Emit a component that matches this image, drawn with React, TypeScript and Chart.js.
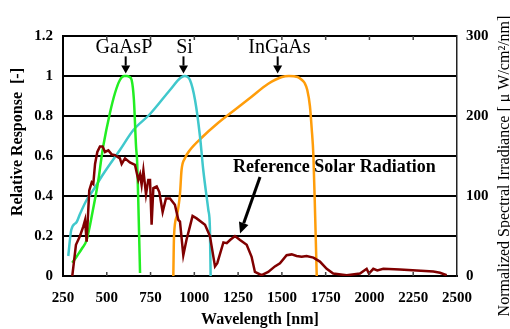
import { useEffect, useRef } from "react";
import { Chart, registerables } from "chart.js";

Chart.register(...registerables);

// ---- data ----
const gaaspWl = [303, 330, 360, 385, 423, 452, 471, 480, 518, 547, 575, 600, 614, 630, 642, 655, 667, 674, 682, 690];
const gaaspResp = [0.066, 0.1, 0.14, 0.18, 0.34, 0.48, 0.6, 0.65, 0.815, 0.915, 0.98, 1.0, 1.0, 0.995, 0.98, 0.88, 0.65, 0.56, 0.3, 0.015];

const siWl = [280, 297, 328, 347, 385, 423, 480, 575, 652, 747, 861, 920, 945, 975, 1004, 1032, 1051, 1080, 1089, 1093];
const siResp = [0.1, 0.23, 0.27, 0.31, 0.38, 0.43, 0.51, 0.63, 0.73, 0.81, 0.93, 0.99, 1.0, 0.98, 0.88, 0.7, 0.53, 0.33, 0.24, 0.0];

const ingaasWl = [880, 884, 900, 918, 927, 947, 975, 1040, 1135, 1230, 1325, 1420, 1500, 1540, 1590, 1615, 1630, 1645, 1660, 1670, 1680, 1690, 1699];
const ingaasResp = [0, 0.2, 0.3, 0.41, 0.53, 0.59, 0.63, 0.69, 0.765, 0.83, 0.895, 0.96, 0.995, 1.0, 0.995, 0.98, 0.965, 0.93, 0.85, 0.74, 0.6, 0.3, 0.0];

const solarWl = [303, 324, 347, 366, 376, 385, 400, 414, 423, 433, 446, 461, 476, 490, 509, 528, 547, 575, 585, 604, 632, 661, 680, 690, 699, 709, 724, 737, 747, 756, 766, 785, 800, 819, 838, 861, 889, 909, 918, 937, 955, 975, 990, 1013, 1061, 1089, 1118, 1131, 1166, 1185, 1204, 1232, 1261, 1299, 1327, 1346, 1384, 1422, 1460, 1489, 1527, 1556, 1584, 1613, 1641, 1680, 1717, 1756, 1793, 1870, 1946, 1984, 1997, 2022, 2045, 2079, 2174, 2270, 2365, 2403, 2441];
const solarIrr = [0, 39, 50, 62, 70, 43, 107, 117, 115, 140, 155, 162, 162, 155, 157, 152, 151, 147, 140, 147, 142, 139, 120, 127, 114, 132, 102, 120, 120, 64, 110, 112, 105, 80, 97, 97, 89, 70, 68, 26, 45, 62, 75, 72, 64, 50, 12, 16, 42, 41, 45, 50, 45, 39, 24, 5, 1, 5, 12, 16, 26, 27, 25, 24, 25, 23, 18, 9, 3, 1, 3, 9, 3, 9, 7, 9, 8, 7, 5.5, 4, 1];

const xTicks = [250, 500, 750, 1000, 1250, 1500, 1750, 2000, 2250, 2500];
const yTickLabels = ["0", "0.2", "0.4", "0.6", "0.8", "1", "1.2"];
const y2TickLabels = ["0", "100", "200", "300"];

const sensorLabels = ["GaAsP", "Si", "InGaAs"];
const sensorLabelWl = [598, 944, 1486];
const sensorArrowWl = [608, 938, 1476];

const solarLabel = "Reference Solar Radiation";

const leftTitle = "Relative Response  [-]";
const rightTitle = "Normalized Spectral Irradiance [ \u03bc W/cm\u00b2/nm]";
const bottomTitle = "Wavelength [nm]";

const toPoints = (xs: number[], ys: number[]) => xs.map((x, i) => ({ x, y: ys[i] }));

const SERIF = "'Liberation Serif', 'Times New Roman', serif";

function drawArrow(ctx: CanvasRenderingContext2D, x1: number, y1: number, x2: number, y2: number, lw: number, headLen: number, headW: number) {
  const ang = Math.atan2(y2 - y1, x2 - x1);
  const bx = x2 - Math.cos(ang) * headLen;
  const by = y2 - Math.sin(ang) * headLen;
  ctx.save();
  ctx.strokeStyle = "#000";
  ctx.fillStyle = "#000";
  ctx.lineWidth = lw;
  ctx.beginPath();
  ctx.moveTo(x1, y1);
  ctx.lineTo(bx, by);
  ctx.stroke();
  ctx.beginPath();
  ctx.moveTo(x2, y2);
  ctx.lineTo(bx + Math.sin(ang) * headW / 2, by - Math.cos(ang) * headW / 2);
  ctx.lineTo(bx - Math.sin(ang) * headW / 2, by + Math.cos(ang) * headW / 2);
  ctx.closePath();
  ctx.fill();
  ctx.restore();
}

const decorPlugin = {
  id: "decor",
  afterDraw(chart: any) {
    const ctx: CanvasRenderingContext2D = chart.ctx;
    const xs = chart.scales.x;
    const ys = chart.scales.y;
    const area = chart.chartArea;
    ctx.save();
    // inner tick marks
    ctx.strokeStyle = "#444";
    ctx.lineWidth = 1.5;
    xTicks.forEach((t) => {
      const px = xs.getPixelForValue(t);
      if (t === 250 || t === 2500) return;
      ctx.beginPath();
      ctx.moveTo(px, area.bottom);
      ctx.lineTo(px, area.bottom - 4);
      ctx.moveTo(px, area.top);
      ctx.lineTo(px, area.top + 4);
      ctx.stroke();
    });
    // sensor labels + arrows
    ctx.fillStyle = "#000";
    ctx.font = `20px ${SERIF}`;
    ctx.textAlign = "center";
    ctx.textBaseline = "alphabetic";
    sensorLabels.forEach((lab, i) => {
      ctx.fillText(lab, xs.getPixelForValue(sensorLabelWl[i]), ys.getPixelForValue(1.115));
      const ax = xs.getPixelForValue(sensorArrowWl[i]);
      drawArrow(ctx, ax, ys.getPixelForValue(1.098), ax, ys.getPixelForValue(1.012), 2, 8, 9);
    });
    // solar label + arrow
    ctx.font = `bold 18px ${SERIF}`;
    ctx.textAlign = "left";
    ctx.fillText(solarLabel, xs.getPixelForValue(1221), ys.getPixelForValue(0.52));
    drawArrow(ctx, xs.getPixelForValue(1375), ys.getPixelForValue(0.495), xs.getPixelForValue(1261), ys.getPixelForValue(0.212), 3, 11, 10);
    // axis titles
    ctx.textAlign = "center";
    ctx.textBaseline = "middle";
    ctx.font = `bold 16px ${SERIF}`;
    ctx.fillText(bottomTitle, (area.left + area.right) / 2, 320);
    ctx.save();
    ctx.translate(18, 142);
    ctx.rotate(-Math.PI / 2);
    ctx.fillText(leftTitle, 0, 0);
    ctx.restore();
    ctx.save();
    ctx.font = `16px ${SERIF}`;
    ctx.translate(505, 166);
    ctx.rotate(-Math.PI / 2);
    ctx.fillText(rightTitle, 0, 0);
    ctx.restore();
    ctx.restore();
  },
};

export default function App() {
  const ref = useRef<HTMLCanvasElement | null>(null);
  useEffect(() => {
    document.body.style.margin = "0";
    const canvas = ref.current!;
    const chart = new Chart(canvas, {
      type: "line",
      data: {
        datasets: [
          {
            label: "Solar",
            data: toPoints(solarWl, solarIrr),
            yAxisID: "y2",
            borderColor: "#800000",
            borderWidth: 2.5,
            pointRadius: 0,
            tension: 0,
          },
          {
            label: "GaAsP",
            data: toPoints(gaaspWl, gaaspResp),
            yAxisID: "y",
            borderColor: "#22EE22",
            borderWidth: 2.5,
            pointRadius: 0,
            cubicInterpolationMode: "monotone",
          },
          {
            label: "Si",
            data: toPoints(siWl, siResp),
            yAxisID: "y",
            borderColor: "#40C8CC",
            borderWidth: 2.5,
            pointRadius: 0,
            cubicInterpolationMode: "monotone",
          },
          {
            label: "InGaAs",
            data: toPoints(ingaasWl, ingaasResp),
            yAxisID: "y",
            borderColor: "#FF9D0A",
            borderWidth: 2.5,
            pointRadius: 0,
            cubicInterpolationMode: "monotone",
          },
        ],
      },
      options: {
        responsive: false,
        animation: false,
        devicePixelRatio: 1,
        layout: { padding: { top: 36, left: 0, right: 0, bottom: 0 } },
        plugins: { legend: { display: false }, tooltip: { enabled: false } },
        scales: {
          x: {
            type: "linear",
            min: 250,
            max: 2500,
            afterBuildTicks: (s: any) => {
              s.ticks = xTicks.map((v) => ({ value: v }));
            },
            afterFit: (s: any) => {
              s.height = 53;
            },
            ticks: {
              color: "#000",
              padding: 13,
              autoSkip: false,
              maxRotation: 0,
              callback: (v: any) => String(v),
              font: { family: SERIF, size: 15, weight: "bold" },
            },
            grid: { display: false, drawTicks: false },
            border: { display: true, color: "#000", width: 2 },
          },
          y: {
            position: "left",
            min: 0,
            max: 1.2,
            afterFit: (s: any) => {
              s.width = 63;
            },
            ticks: {
              stepSize: 0.2,
              color: "#000",
              padding: 10,
              callback: (_v: any, i: number) => yTickLabels[i],
              font: { family: SERIF, size: 15, weight: "bold" },
            },
            grid: { color: "#000", lineWidth: 2, drawTicks: false },
            border: { display: true, color: "#000", width: 2 },
          },
          y2: {
            position: "right",
            min: 0,
            max: 300,
            afterFit: (s: any) => {
              s.width = 53;
            },
            ticks: {
              stepSize: 100,
              color: "#000",
              padding: 9,
              callback: (_v: any, i: number) => y2TickLabels[i],
              font: { family: SERIF, size: 15, weight: "bold" },
            },
            grid: { display: false, drawTicks: false },
            border: { display: true, color: "#222", width: 1.5 },
          },
        },
      },
      plugins: [decorPlugin],
    } as any);
    return () => chart.destroy();
  }, []);
  return (
    <div style={{ position: "absolute", left: 0, top: 0, width: 510, height: 329 }}>
      <canvas ref={ref} width={510} height={329} style={{ display: "block" }} />
    </div>
  );
}
